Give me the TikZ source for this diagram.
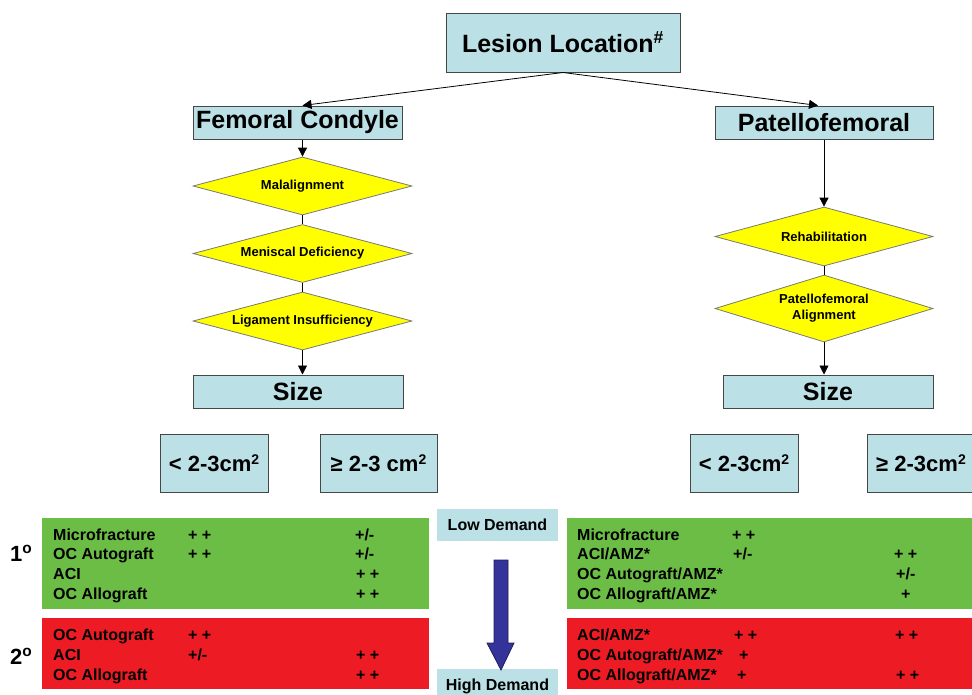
\documentclass[tikz,border=0pt]{standalone}
\usepackage{fontspec}
\setmainfont{Liberation Sans}
\usetikzlibrary{shapes.geometric,arrows.meta}
\definecolor{boxblue}{RGB}{187,224,229}
\definecolor{edgegray}{RGB}{70,70,70}
\definecolor{diagray}{RGB}{120,120,120}
\definecolor{diayellow}{RGB}{255,255,0}
\definecolor{okgreen}{RGB}{107,189,69}
\definecolor{badred}{RGB}{237,28,36}
\definecolor{demandblue}{RGB}{51,51,153}
\definecolor{demandedge}{RGB}{30,30,90}
\newcommand{\sqsup}{\raisebox{0.62ex}{\fontsize{14}{14}\selectfont 2}}
\begin{document}
\begin{tikzpicture}[x=1pt,y=-1pt,
  box/.style={draw=edgegray, line width=1pt, fill=boxblue, inner sep=0pt, font=\bfseries\fontsize{25}{30}\selectfont},
  sbox/.style={draw=edgegray, line width=1pt, fill=boxblue, inner sep=0pt, minimum height=58pt, font=\bfseries\fontsize{22}{26}\selectfont},
  dia/.style={diamond, draw=diagray, line width=0.8pt, fill=diayellow, aspect=3.7, inner sep=0pt, minimum width=219pt, minimum height=58pt, font=\bfseries\fontsize{13}{16}\selectfont, align=center},
  conn/.style={draw=black, line width=0.8pt, -{Triangle[length=9pt,width=9pt]}},
  plain/.style={draw=black, line width=0.8pt},
  row/.style={anchor=base west, inner sep=0pt, font=\bfseries\fontsize{16}{19}\selectfont},
  rank/.style={anchor=base west, inner sep=0pt, font=\bfseries\fontsize{22}{24}\selectfont},
  demand/.style={fill=boxblue, inner sep=0pt, minimum width=121pt, font=\bfseries\fontsize{16}{19}\selectfont}
]
\useasboundingbox (0,0) rectangle (972,694);
\clip (0,0) rectangle (972,694);

% top boxes
\node[box, minimum width=234pt, minimum height=59pt] (lesion) at (563,42.5) {Lesion Location\textsuperscript{\#}};
\node[box, minimum width=209pt, minimum height=33pt] (femoral) at (297.5,122.5) {Femoral Condyle};
\node[box, minimum width=218pt, minimum height=33pt] (patello) at (824,122.5) {Patellofemoral};

% diamonds
\node[dia] (mal) at (302.5,186) {Malalignment};
\node[dia] (men) at (302.5,253.5) {Meniscal Deficiency};
\node[dia] (lig) at (302.5,321) {Ligament Insufficiency};
\node[dia, minimum width=218pt, minimum height=59pt] (rehab) at (824,236.5) {Rehabilitation};
\node[dia, minimum width=218pt, minimum height=67pt] (pfa) at (824,308.5) {Patellofemoral\\Alignment};

% size boxes
\node[box, minimum width=210pt, minimum height=33pt] (sizeL) at (298,391.5) {Size};
\node[box, minimum width=210pt, minimum height=33pt] (sizeR) at (828,391.5) {Size};

\node[sbox, minimum width=108pt] (s1) at (214,463) {< 2-3cm\sqsup};
\node[sbox, minimum width=117pt] (s2) at (378.5,463) {≥ 2-3 cm\sqsup};
\node[sbox, minimum width=108pt] (s3) at (744,463) {< 2-3cm\sqsup};
\node[sbox, minimum width=108pt] (s4) at (921,463) {≥ 2-3cm\sqsup};

% connectors
\draw[conn] (lesion.south) -- ([xshift=5pt]femoral.north);
\draw[conn] (lesion.south) -- ([xshift=-6pt]patello.north);
\draw[conn] (femoral.south -| mal.north) -- (mal.north);
\draw[plain] (mal.south) -- (men.north);
\draw[plain] (men.south) -- (lig.north);
\draw[conn] (lig.south) -- (lig.south |- sizeL.north);
\draw[conn] (patello.south) -- (rehab.north);
\draw[plain] (rehab.south) -- (pfa.north);
\draw[conn] (pfa.south) -- (pfa.south |- sizeR.north);

% coloured panels
\fill[okgreen] (42,518) rectangle (429,609);
\fill[badred] (42,618) rectangle (429,689);
\fill[okgreen] (567,518) rectangle (990,609);
\fill[badred] (567,618) rectangle (990,689);

% rank labels
\node[rank] (p1) at (10,561) {1\textsuperscript{o}};
\node[rank] (p2) at (10,664) {2\textsuperscript{o}};

% left green
\node[row] (lg1) at (53,540) {Microfracture};
\node[row] (lg1b) at (188,540) {+ +};
\node[row] (lg1c) at (355,540) {+/-};
\node[row] (lg2) at (53,559.5) {OC Autograft};
\node[row] (lg2b) at (188,559.5) {+ +};
\node[row] (lg2c) at (355,559.5) {+/-};
\node[row] (lg3) at (53,579.5) {ACI};
\node[row] (lg3c) at (356,579.5) {+ +};
\node[row] (lg4) at (53,599) {OC Allograft};
\node[row] (lg4c) at (356,599) {+ +};

% left red
\node[row] (lr1) at (53,640) {OC Autograft};
\node[row] (lr1b) at (188,640) {+ +};
\node[row] (lr2) at (53,660) {ACI};
\node[row] (lr2b) at (188,660) {+/-};
\node[row] (lr2c) at (356,660) {+ +};
\node[row] (lr3) at (53,680) {OC Allograft};
\node[row] (lr3c) at (356,680) {+ +};

% right green
\node[row] (rg1) at (577,540) {Microfracture};
\node[row] (rg1b) at (732,540) {+ +};
\node[row] (rg2) at (577,559.5) {ACI/AMZ*};
\node[row] (rg2b) at (733,559.5) {+/-};
\node[row] (rg2c) at (894,559.5) {+ +};
\node[row] (rg3) at (577,579.5) {OC Autograft/AMZ*};
\node[row] (rg3c) at (896,579.5) {+/-};
\node[row] (rg4) at (577,599) {OC Allograft/AMZ*};
\node[row] (rg4c) at (901,599) {+};

% right red
\node[row] (rr1) at (577,640) {ACI/AMZ*};
\node[row] (rr1b) at (734,640) {+ +};
\node[row] (rr1c) at (895,640) {+ +};
\node[row] (rr2) at (577,660) {OC Autograft/AMZ*};
\node[row] (rr2b) at (739,660) {+};
\node[row] (rr3) at (577,680) {OC Allograft/AMZ*};
\node[row] (rr3b) at (737,680) {+};
\node[row] (rr3c) at (896,680) {+ +};

% demand
\node[demand, minimum height=32pt] (low) at (497.5,525) {Low Demand};
\node[demand, minimum height=34pt] (high) at (497.5,686) {High Demand};
\filldraw[fill=demandblue, draw=demandedge, line width=0.8pt]
  (494,560) -- (508,560) -- (508,643) -- (514,643) -- (501,670) -- (487,643) -- (494,643) -- cycle;
\end{tikzpicture}
\end{document}
